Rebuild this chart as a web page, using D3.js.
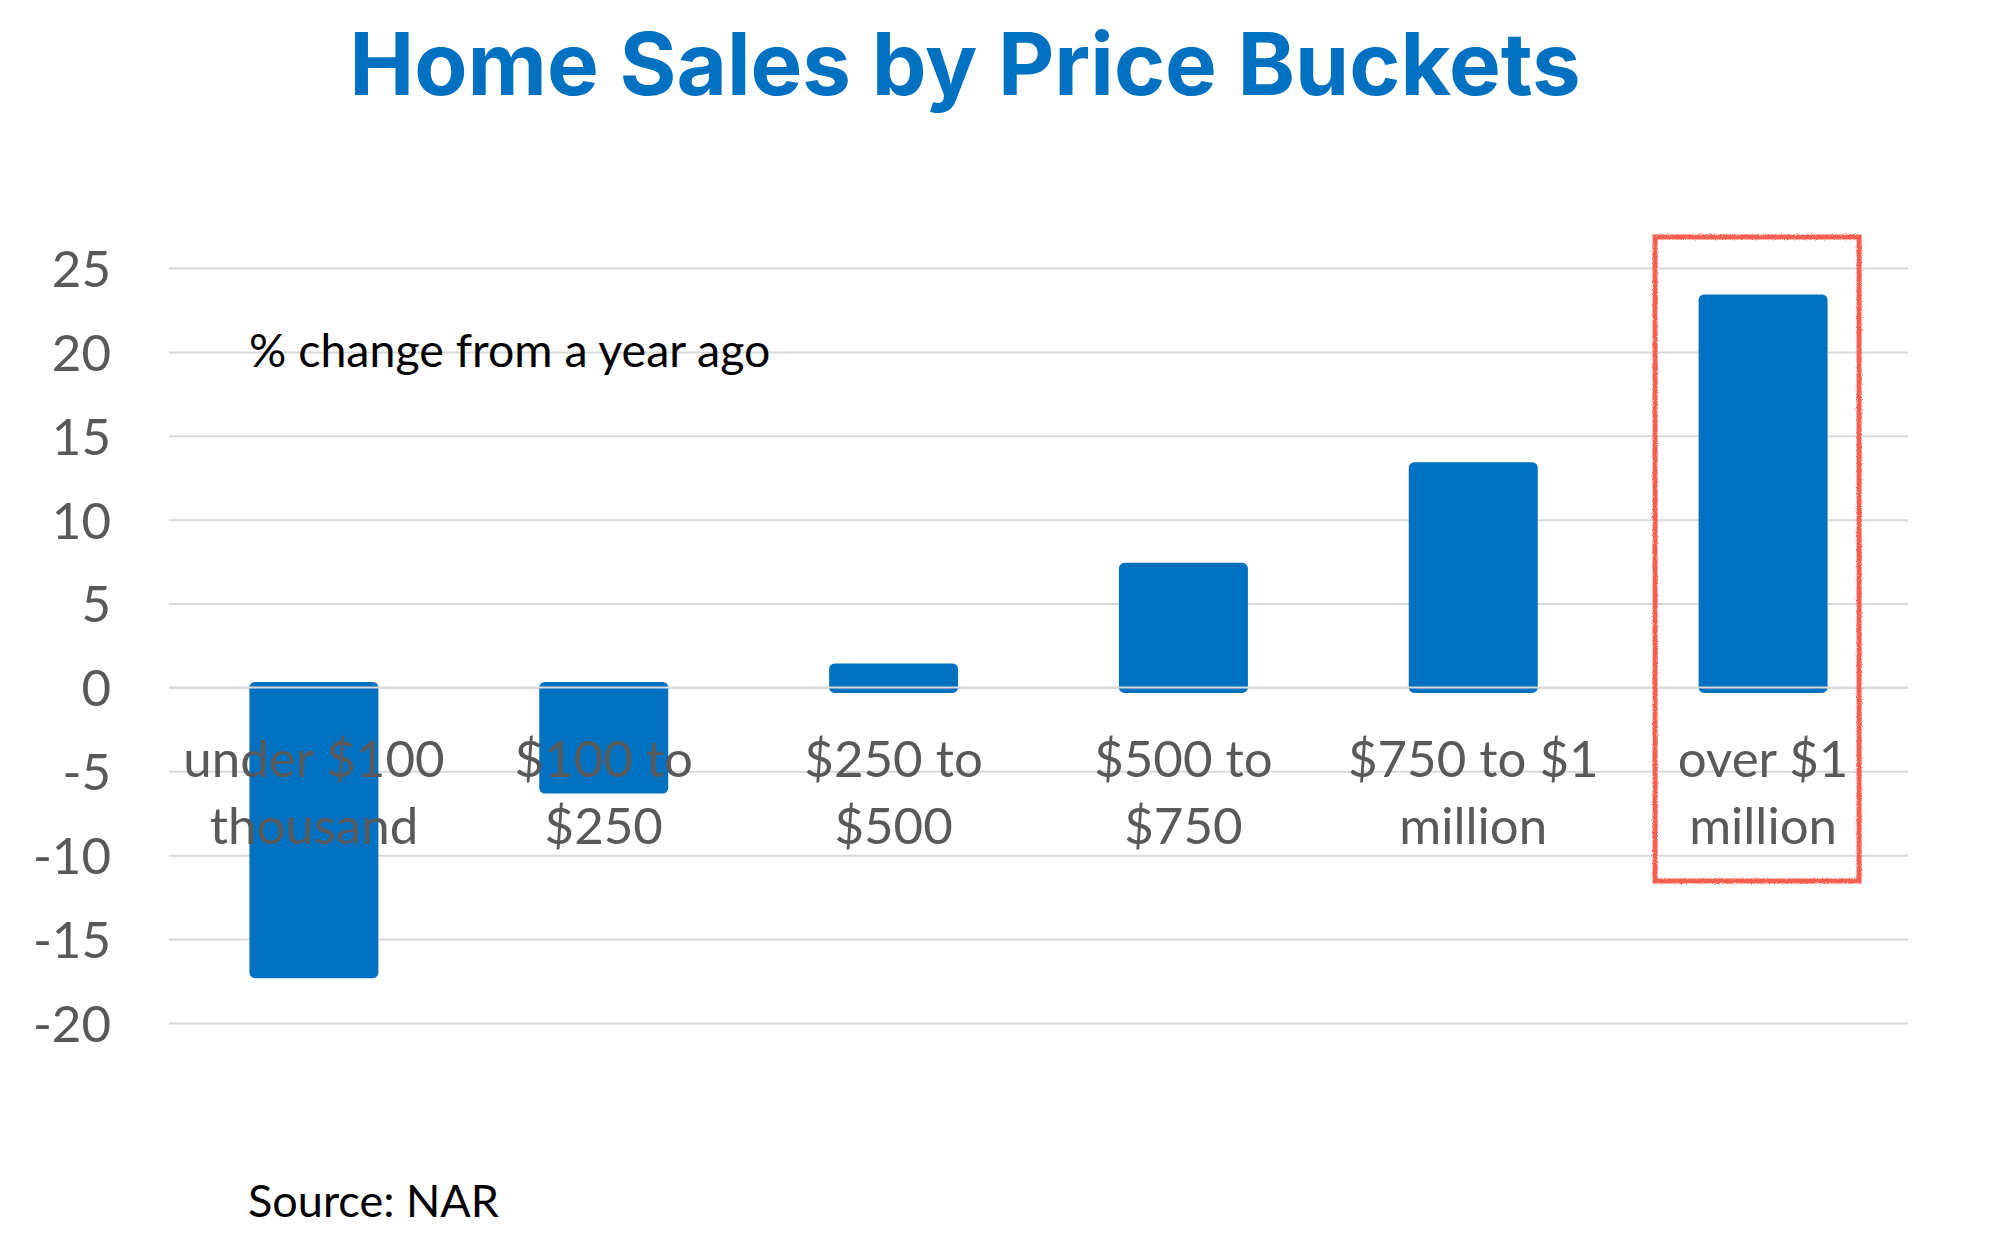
<!DOCTYPE html>
<html><head><meta charset="utf-8">
<script src="https://cdn.jsdelivr.net/npm/d3@7"></script>
<style>
html,body{margin:0;padding:0;background:#fff;}
svg{display:block;}
</style></head>
<body>
<script>
// ---- data ----
const categories = [
  ["under $100", "thousand"],
  ["$100 to", "$250"],
  ["$250 to", "$500"],
  ["$500 to", "$750"],
  ["$750 to $1", "million"],
  ["over $1", "million"]
];
const values = [-17.0, -6.0, 1.1, 7.1, 13.1, 23.1];
const yTicks = [25, 20, 15, 10, 5, 0, -5, -10, -15, -20];
const titleText = "Home Sales by Price Buckets";
const noteText = "% change from a year ago";
const sourceText = "Source: NAR";
const highlightIndex = 5;

// ---- layout ----
const W = 1994, H = 1260;
const plotLeft = 169, plotRight = 1908;
const yTop = 268, yBottom = 1023;
const labelFont = "Lato, 'Open Sans', sans-serif";
const grey = "#595959";
const blue = "#0070C0";

const svg = d3.select("body").append("svg").attr("width", W).attr("height", H);

const defs = svg.append("defs");
const f = defs.append("filter").attr("id", "rough").attr("x", "-5%").attr("y", "-5%").attr("width", "110%").attr("height", "110%");
f.append("feTurbulence").attr("type", "fractalNoise").attr("baseFrequency", 0.9).attr("numOctaves", 2).attr("result", "n");
f.append("feDisplacementMap").attr("in", "SourceGraphic").attr("in2", "n").attr("scale", 3);

const y = d3.scaleLinear().domain([-20, 25]).range([yBottom, yTop]);
const x = d3.scaleBand().domain(d3.range(categories.length)).range([plotLeft, plotRight])
  .paddingInner(0.593).paddingOuter(0.2965);

// gridlines
const grid = svg.append("g").attr("transform", `translate(${plotLeft},0)`)
  .call(d3.axisLeft(y).tickValues(yTicks).tickSize(-(plotRight - plotLeft)).tickFormat(""));
grid.select(".domain").remove();
grid.selectAll(".tick line").attr("stroke", "#D9D9D9").attr("stroke-width", 2);

// bars
const strokeW = 11;
svg.append("g").selectAll("rect").data(values).join("rect")
  .attr("x", (d, i) => x(i))
  .attr("width", x.bandwidth())
  .attr("y", d => y(Math.max(0, d)))
  .attr("height", d => Math.abs(y(d) - y(0)))
  .attr("fill", blue)
  .attr("stroke", blue)
  .attr("stroke-width", strokeW)
  .attr("stroke-linejoin", "round");

// zero line on top
svg.append("line").attr("x1", plotLeft).attr("x2", plotRight)
  .attr("y1", y(0)).attr("y2", y(0)).attr("stroke", "#D9D9D9").attr("stroke-width", 2);

// y axis labels
const yAx = svg.append("g").attr("transform", `translate(${plotLeft},0)`)
  .call(d3.axisLeft(y).tickValues(yTicks).tickSize(0).tickPadding(58).tickFormat(d => d < 0 ? "-" + Math.abs(d) : d));
yAx.select(".domain").remove();
yAx.selectAll("text").attr("fill", grey).attr("font-family", labelFont).attr("font-size", 51).attr("dy", "0.36em");

// category labels
const xAx = svg.append("g").attr("transform", `translate(0,${y(0)})`)
  .call(d3.axisBottom(x).tickSize(0).tickFormat(""));
xAx.select(".domain").remove();
xAx.selectAll(".tick").each(function(d) {
  const t = d3.select(this).append("text")
    .attr("fill", grey).attr("font-family", labelFont).attr("font-size", 51)
    .attr("text-anchor", "middle");
  categories[d].forEach((line, k) => {
    t.append("tspan").attr("x", 0).attr("y", 777 - y(0) + k * 67).text(line);
  });
});

// title
svg.append("text").attr("x", 965).attr("y", 95).attr("text-anchor", "middle")
  .attr("font-family", "Inter, 'Open Sans', sans-serif").attr("font-weight", 700)
  .attr("font-size", 87).attr("fill", blue).text(titleText);

// note
svg.append("text").attr("x", 249).attr("y", 367)
  .attr("font-family", labelFont).attr("font-size", 46.5).attr("fill", "#000").text(noteText);

// source
svg.append("text").attr("x", 248).attr("y", 1217)
  .attr("font-family", labelFont).attr("font-size", 45).attr("fill", "#000").text(sourceText);

// highlight box
const hb = x(highlightIndex) + x.bandwidth() / 2;
svg.append("rect").attr("x", hb - 108).attr("y", 237).attr("width", 204).attr("height", 644)
  .attr("fill", "none").attr("stroke", "#F65F50").attr("stroke-width", 5).attr("filter", "url(#rough)");
</script>
</body></html>
